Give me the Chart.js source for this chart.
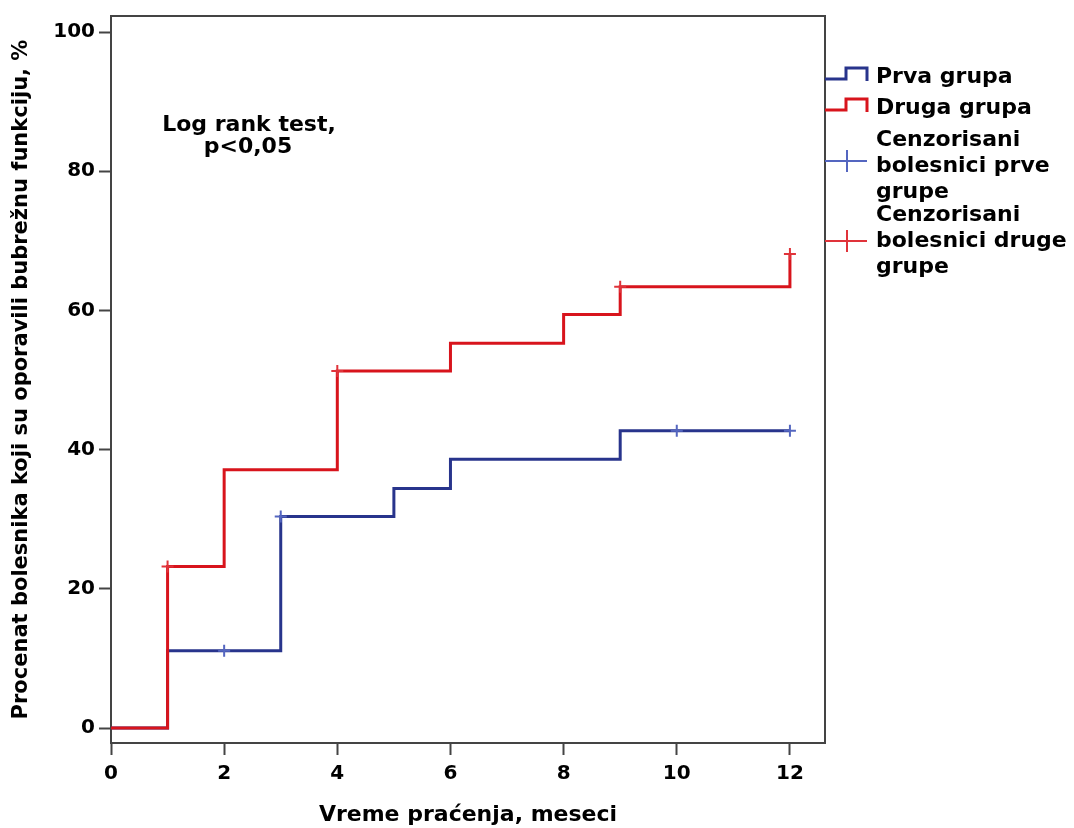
<!DOCTYPE html>
<html>
<head>
<meta charset="utf-8">
<script src="https://cdn.jsdelivr.net/npm/chart.js@4/dist/chart.umd.min.js"></script>
<style>
  html, body { margin: 0; padding: 0; background: #fff; }
  #wrap { width: 1074px; height: 828px; position: relative; }
</style>
</head>
<body>
<div id="wrap"><canvas id="kmChart"></canvas></div>
<script>
// Kaplan-Meier data (months, % recovered)
const xTicks = [0, 2, 4, 6, 8, 10, 12];
const yTicks = [0, 20, 40, 60, 80, 100];

const prvaTimes = [0, 1, 3, 5, 6, 9, 12];
const prvaValues = [0, 11.1, 30.4, 34.4, 38.6, 42.7, 42.7];
const drugaTimes = [0, 1, 2, 4, 6, 8, 9, 12];
const drugaValues = [0, 23.2, 37.1, 51.3, 55.3, 59.4, 63.4, 68.1];

const prvaCensTimes = [2, 3, 10, 12];
const prvaCensValues = [11.1, 30.4, 42.7, 42.7];
const drugaCensTimes = [1, 4, 9, 12];
const drugaCensValues = [23.2, 51.3, 63.4, 68.1];

const legendLabels = [
    ["Prva grupa"],
    ["Druga grupa"],
    ["Cenzorisani", "bolesnici prve", "grupe"],
    ["Cenzorisani", "bolesnici druge", "grupe"]
];
const noteLines = ["Log rank test,", "p<0,05"];

const navy = "#28348c";
const red = "#d8141c";
const navyCens = "#5466c0";
const redCens = "#e0333a";
const axisColor = "#444444";
const fontStr = "bold 22px 'DejaVu Sans', Verdana, sans-serif";

function pts(xs, ys) {
    return xs.map((x, i) => ({ x: x, y: ys[i] }));
}

Chart.defaults.font.family = "'DejaVu Sans', Verdana, sans-serif";
Chart.defaults.font.size = 22;
Chart.defaults.font.weight = "bold";
Chart.defaults.color = "#000";

// frame, legend and log rank note
const extras = {
    id: "extras",
    afterDraw(chart) {
        const ctx = chart.ctx;
        const a = chart.chartArea;
        ctx.save();
        ctx.strokeStyle = axisColor;
        ctx.lineWidth = 2;
        ctx.beginPath();
        ctx.moveTo(a.left, a.top);
        ctx.lineTo(a.right, a.top);
        ctx.lineTo(a.right, a.bottom);
        ctx.stroke();

        ctx.font = fontStr;
        ctx.fillStyle = "#000";
        ctx.textAlign = "center";
        ctx.textBaseline = "middle";
        ctx.fillText(noteLines[0], 249, 125);
        ctx.fillText(noteLines[1], 248, 147);

        // legend step icons
        const x0 = a.right;
        ctx.lineWidth = 3;
        [[navy, 79, 68], [red, 110, 99]].forEach(function (s) {
            ctx.strokeStyle = s[0];
            ctx.beginPath();
            ctx.moveTo(x0, s[1]);
            ctx.lineTo(x0 + 21, s[1]);
            ctx.lineTo(x0 + 21, s[2]);
            ctx.lineTo(x0 + 42, s[2]);
            ctx.lineTo(x0 + 42, s[1] + 2);
            ctx.stroke();
        });
        // legend censor icons
        ctx.lineWidth = 2;
        [[navyCens, 161], [redCens, 241]].forEach(function (s) {
            ctx.strokeStyle = s[0];
            ctx.beginPath();
            ctx.moveTo(x0, s[1]);
            ctx.lineTo(x0 + 42, s[1]);
            ctx.moveTo(x0 + 22, s[1] - 11);
            ctx.lineTo(x0 + 22, s[1] + 11);
            ctx.stroke();
        });

        ctx.textAlign = "left";
        const starts = [77, 108, 140, 215];
        legendLabels.forEach(function (lines, i) {
            lines.forEach(function (t, j) {
                ctx.fillText(t, 876, starts[i] + j * 26);
            });
        });
        ctx.restore();
    }
};

new Chart(document.getElementById("kmChart"), {
    type: "scatter",
    data: {
        datasets: [
            {
                label: "Cenzorisani bolesnici druge grupe",
                data: pts(drugaCensTimes, drugaCensValues),
                showLine: false,
                pointStyle: "cross",
                pointRadius: 6,
                borderColor: redCens,
                borderWidth: 2,
                order: 0
            },
            {
                label: "Cenzorisani bolesnici prve grupe",
                data: pts(prvaCensTimes, prvaCensValues),
                showLine: false,
                pointStyle: "cross",
                pointRadius: 6,
                borderColor: navyCens,
                borderWidth: 2,
                order: 1
            },
            {
                label: "Druga grupa",
                data: pts(drugaTimes, drugaValues),
                showLine: true,
                stepped: "before",
                borderColor: red,
                borderWidth: 3,
                pointRadius: 0,
                order: 2
            },
            {
                label: "Prva grupa",
                data: pts(prvaTimes, prvaValues),
                showLine: true,
                stepped: "before",
                borderColor: navy,
                borderWidth: 3,
                pointRadius: 0,
                order: 3
            }
        ]
    },
    options: {
        responsive: true,
        maintainAspectRatio: false,
        animation: false,
        layout: {
            padding: { left: 0, top: 15, right: 249, bottom: 0 }
        },
        plugins: {
            legend: { display: false },
            tooltip: { enabled: false }
        },
        scales: {
            x: {
                type: "linear",
                min: 0,
                max: 12.62,
                afterBuildTicks: function (scale) {
                    scale.ticks = xTicks.map(v => ({ value: v }));
                },
                afterFit: function (scale) { scale.height = 85; },
                grid: {
                    drawOnChartArea: false,
                    drawTicks: true,
                    tickLength: 12,
                    tickColor: axisColor,
                    tickWidth: 2
                },
                border: { display: true, color: axisColor, width: 2 },
                ticks: { padding: 7, color: "#000", maxRotation: 0, font: { size: 20 } },
                title: {
                    display: true,
                    text: "Vreme praćenja, meseci",
                    color: "#000",
                    padding: { top: 0, bottom: 0 }
                }
            },
            y: {
                type: "linear",
                min: -2.15,
                max: 102.3,
                afterBuildTicks: function (scale) {
                    scale.ticks = yTicks.map(v => ({ value: v }));
                },
                afterFit: function (scale) { scale.width = 111; },
                grid: {
                    drawOnChartArea: false,
                    drawTicks: true,
                    tickLength: 12,
                    tickColor: axisColor,
                    tickWidth: 2
                },
                border: { display: true, color: axisColor, width: 2 },
                ticks: { padding: 4, color: "#000", font: { size: 20 } },
                title: {
                    display: true,
                    text: "Procenat bolesnika koji su oporavili bubrežnu funkciju, %",
                    color: "#000",
                    font: { size: 21 },
                    padding: { top: 9, bottom: 0 }
                }
            }
        }
    },
    plugins: [extras]
});
</script>
</body>
</html>
